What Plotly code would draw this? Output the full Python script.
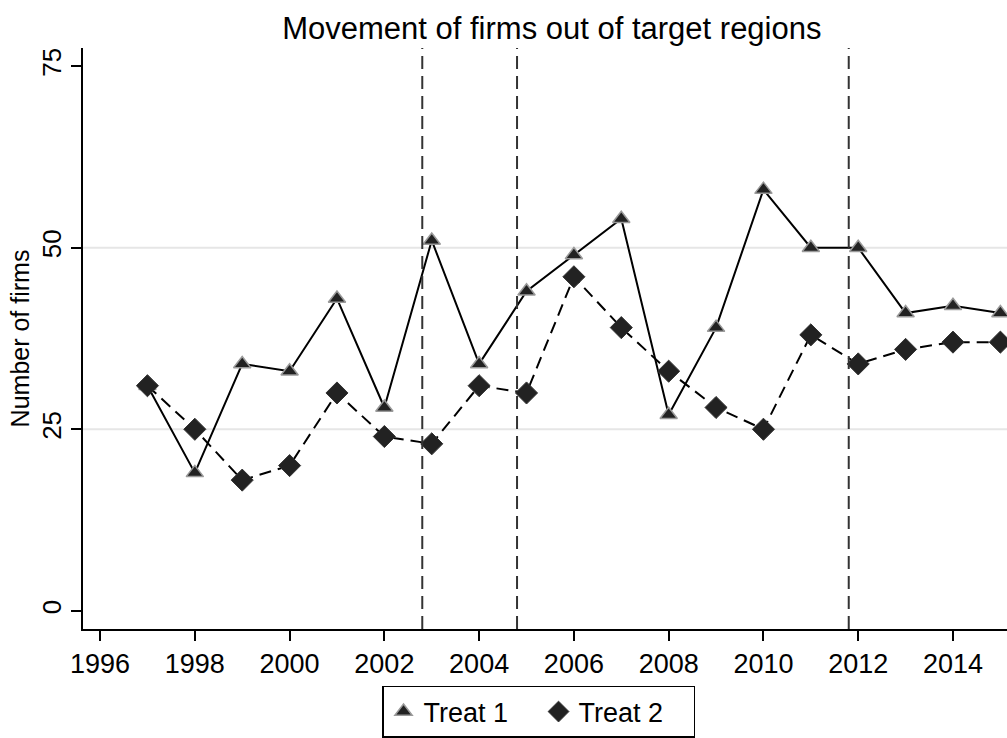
import plotly.graph_objects as go

years = list(range(1997, 2016))
treat1 = [31, 19, 34, 33, 43, 28, 51, 34, 44, 49, 54, 27, 39, 58, 50, 50, 41, 42, 41]
treat2 = [31, 25, 18, 20, 30, 24, 23, 31, 30, 46, 39, 33, 28, 25, 38, 34, 36, 37, 37]
event_lines = [2002.8, 2004.8, 2011.8]
grid_vals = [25, 50]
x_ticks = list(range(1996, 2016, 2))
y_ticks = [0, 25, 50, 75]

font = "Arial, Liberation Sans, sans-serif"

fig = go.Figure()

# lines drawn separately so the legend shows markers only
fig.add_scatter(x=years, y=treat1, mode="lines", showlegend=False, hoverinfo="skip",
        line=dict(color="black", width=2))
fig.add_scatter(x=years, y=treat2, mode="lines", showlegend=False, hoverinfo="skip",
        line=dict(color="black", width=2, dash="12px,7px"))
fig.add_scatter(x=years, y=treat1, name="Treat 1", mode="markers",
        marker=dict(symbol="triangle-up", size=15, color="#222222",
                    line=dict(color="#9a9a9a", width=1.5)))
fig.add_scatter(x=years, y=treat2, name="Treat 2", mode="markers",
        marker=dict(symbol="diamond", size=17, color="#222222",
                    line=dict(color="#333333", width=1)))

# horizontal grid only at 25 and 50
for g in grid_vals:
    fig.add_shape(type="line", xref="paper", x0=0, x1=1, y0=g, y1=g,
            line=dict(color="#e6e6e6", width=2), layer="below")

for xv in event_lines:
    fig.add_shape(type="line", x0=xv, x1=xv, yref="paper", y0=0, y1=1,
            line=dict(color="#333333", width=2, dash="13px,7px"))

fig.update_layout(
    width=1007, height=738,
    paper_bgcolor="white", plot_bgcolor="white",
    margin=dict(l=83, r=0, t=48, b=109, autoexpand=False),
    font=dict(family=font, size=26, color="black"),
    title=dict(text="Movement of firms out of target regions", x=0.548, xanchor="center",
               y=0.962, yanchor="middle", font=dict(size=31)),
    legend=dict(orientation="h", x=0.493, xanchor="center", y=-0.1876, yanchor="bottom",
                bordercolor="black", borderwidth=1.5, entrywidth=110, entrywidthmode="pixels",
                font=dict(size=27), itemwidth=30),
    showlegend=True,
)
fig.update_xaxes(range=[1995.64, 2015.14], tickvals=x_ticks, showgrid=False,
        showline=True, linecolor="black", linewidth=2, ticks="outside", ticklen=10,
        tickwidth=2, tickcolor="black", tickfont=dict(size=27), zeroline=False)
fig.update_yaxes(range=[-2.5, 77.5], tickvals=y_ticks, showgrid=False,
        showline=True, linecolor="black", linewidth=2, ticks="outside", ticklen=10,
        tickwidth=2, tickcolor="black", tickangle=-90, tickfont=dict(size=26),
        zeroline=False, title=dict(text="Number of firms", font=dict(size=25), standoff=0))

fig.write_html("out.html", config={"displayModeBar": False},
        post_script="document.body.style.margin='0';")
